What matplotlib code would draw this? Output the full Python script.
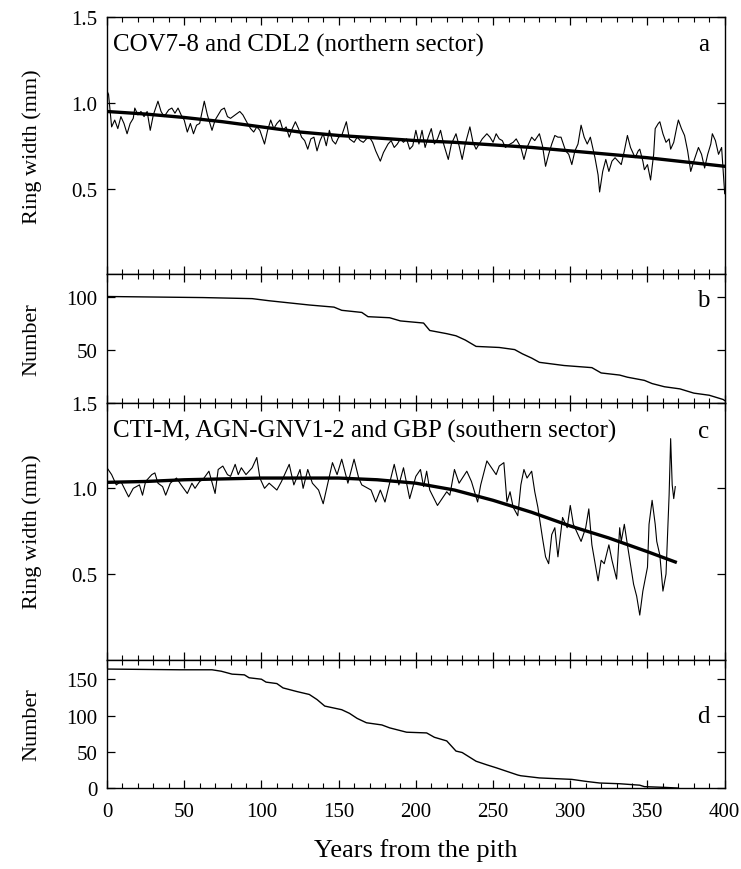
import matplotlib
matplotlib.use('Agg')
import matplotlib.pyplot as plt
from matplotlib.ticker import MultipleLocator

plt.rcParams['font.family'] = ['Liberation Serif', 'DejaVu Serif']

# panel a: northern sector ring widths (mm)
A_YEARS = [0, 1, 3, 5, 7, 9, 11, 13, 15, 17, 18, 20, 22, 24, 26, 28, 30, 33, 35, 37,
           40, 42, 44, 46, 48, 50, 52, 54, 56, 58, 60, 63, 65, 68, 70, 72, 74, 76, 78, 80,
           83, 86, 88, 91, 93, 95, 97, 99, 102, 104, 106, 108, 110, 112, 114, 116, 118, 120,
           122, 124, 126, 128, 130, 132, 134, 136, 138, 140, 142, 144, 146, 148, 150, 152,
           155, 157, 160, 162, 164, 166, 168, 170, 172, 174, 177, 179, 182, 184, 186, 188,
           190, 192, 194, 196, 198, 200, 202, 204, 206, 208, 210, 212, 214, 216, 218, 221,
           223, 226, 228, 230, 232, 235, 237, 239, 241, 243, 246, 248, 250, 252, 254, 256,
           258, 261, 263, 265, 268, 270, 272, 275, 277, 280, 282, 284, 286, 288, 290, 292,
           294, 297, 299, 301, 303, 305, 307, 309, 311, 313, 315, 316, 318, 319, 321, 323,
           325, 327, 329, 331, 333, 335, 337, 339, 342, 344, 345, 347, 348, 350, 352, 354,
           355, 357, 358, 360, 362, 364, 365, 367, 369, 370, 372, 374, 376, 378, 380, 383,
           385, 387, 389, 391, 392, 394, 396, 398, 399, 400]
A_WIDTH = [1.07, 1.05, 0.86, 0.90, 0.85, 0.92, 0.88, 0.82, 0.88, 0.91, 0.97, 0.93, 0.95, 0.92, 0.95, 0.84, 0.93, 1.01, 0.95, 0.92,
           0.96, 0.97, 0.94, 0.97, 0.93, 0.90, 0.83, 0.88, 0.82, 0.87, 0.88, 1.01, 0.93, 0.84, 0.90, 0.93, 0.96, 0.97, 0.92, 0.91,
           0.93, 0.95, 0.93, 0.88, 0.85, 0.83, 0.86, 0.84, 0.76, 0.84, 0.90, 0.85, 0.88, 0.90, 0.84, 0.86, 0.80, 0.85,
           0.89, 0.85, 0.80, 0.78, 0.73, 0.79, 0.80, 0.72, 0.78, 0.82, 0.75, 0.84, 0.78, 0.76, 0.80, 0.81,
           0.89, 0.79, 0.77, 0.80, 0.78, 0.77, 0.79, 0.80, 0.77, 0.72, 0.66, 0.71, 0.76, 0.78, 0.74, 0.76,
           0.79, 0.77, 0.79, 0.73, 0.75, 0.84, 0.76, 0.84, 0.74, 0.80, 0.85, 0.76, 0.79, 0.84, 0.76, 0.67,
           0.76, 0.82, 0.75, 0.67, 0.76, 0.86, 0.77, 0.73, 0.76, 0.79, 0.82, 0.80, 0.77, 0.82, 0.79, 0.78,
           0.74, 0.76, 0.77, 0.79, 0.74, 0.67, 0.74, 0.80, 0.78, 0.82, 0.75, 0.63, 0.70, 0.76, 0.81, 0.80,
           0.80, 0.72, 0.70, 0.64, 0.72, 0.76, 0.87, 0.80, 0.76, 0.80, 0.72, 0.68, 0.58, 0.48, 0.60, 0.67,
           0.60, 0.66, 0.68, 0.66, 0.64, 0.72, 0.81, 0.74, 0.68, 0.72, 0.73, 0.66, 0.61, 0.64, 0.55, 0.70,
           0.85, 0.88, 0.89, 0.82, 0.77, 0.79, 0.73, 0.77, 0.86, 0.90, 0.85, 0.81, 0.72, 0.60, 0.66, 0.74,
           0.70, 0.62, 0.70, 0.76, 0.82, 0.78, 0.70, 0.74, 0.60, 0.47]
A_TREND_YEARS = [0, 25, 50, 75, 100, 125, 150, 175, 200, 225, 250, 275, 300, 325, 350, 375, 400]
A_TREND = [0.95, 0.935, 0.915, 0.89, 0.86, 0.83, 0.81, 0.795, 0.78, 0.77, 0.755, 0.74, 0.72, 0.70, 0.68, 0.655, 0.63]

# panel b: sample depth, northern sector
B_YEARS = [0, 62, 94, 105, 118, 131, 147, 152, 165, 169, 183, 190, 205, 209, 220, 226, 232, 239,
           254, 264, 269, 275, 280, 296, 314, 320, 332, 337, 348, 353, 361, 371, 380, 390, 399, 400]
B_NUMBER = [100, 99, 98, 96, 94, 92, 90, 87, 85, 81, 80, 77, 75, 68, 65, 63, 59, 53,
            52, 50, 46, 42, 38, 35, 33, 28, 26, 24, 21, 18, 15, 13, 9, 7, 3, 2]

# panel c: southern sector ring widths (mm)
C_YEARS = [0, 3, 6, 9, 14, 17, 21, 23, 25, 29, 31, 33, 36, 38, 41, 45, 48, 52, 55, 57,
           60, 62, 66, 70, 72, 75, 78, 80, 83, 85, 87, 90, 94, 97, 99, 102, 105, 110, 113,
           118, 121, 125, 127, 130, 133, 137, 140, 143, 146, 149, 152, 156, 160, 163, 165,
           171, 174, 177, 180, 186, 189, 192, 196, 200, 203, 205, 207, 209, 214, 217, 220,
           222, 225, 228, 233, 236, 238, 240, 242, 246, 249, 252, 254, 257, 259, 261, 263,
           266, 268, 270, 272, 275, 277, 279, 282, 284, 286, 288, 290, 292, 295, 298, 300,
           302, 307, 310, 312, 314, 318, 320, 322, 325, 327, 330, 332, 333, 335, 337, 341,
           343, 345, 347, 350, 351, 353, 355, 356, 358, 360, 362, 364, 365, 366, 367, 368]
C_WIDTH = [1.12, 1.08, 1.02, 1.04, 0.95, 1.00, 1.02, 0.96, 1.04, 1.08, 1.09, 1.03, 1.01, 0.96, 1.03, 1.06, 1.02, 0.97, 1.03, 1.00,
           1.04, 1.05, 1.10, 0.97, 1.11, 1.13, 1.08, 1.07, 1.14, 1.08, 1.12, 1.08, 1.12, 1.18, 1.06, 1.00, 1.03, 0.99, 1.04,
           1.14, 1.02, 1.11, 1.00, 1.11, 1.03, 0.99, 0.91, 1.03, 1.15, 1.08, 1.17, 1.03, 1.17, 1.06, 1.02,
           0.99, 0.92, 0.99, 0.92, 1.14, 1.02, 1.12, 0.94, 1.07, 1.11, 1.01, 1.10, 0.99, 0.90, 0.94, 0.98,
           0.96, 1.11, 1.03, 1.10, 1.04, 0.98, 0.92, 1.02, 1.16, 1.12, 1.08, 1.13, 1.15, 0.92, 0.98, 0.89,
           0.84, 1.02, 1.11, 1.06, 1.10, 0.98, 0.89, 0.71, 0.60, 0.56, 0.73, 0.77, 0.60, 0.83, 0.77, 0.90,
           0.79, 0.69, 0.77, 0.88, 0.67, 0.46, 0.58, 0.56, 0.67, 0.58, 0.47, 0.77, 0.69, 0.79, 0.67, 0.44,
           0.37, 0.26, 0.40, 0.54, 0.79, 0.93, 0.79, 0.69, 0.61, 0.40, 0.50, 0.96, 1.29, 1.02, 0.94, 1.01]
C_TREND_YEARS = [0, 25, 50, 75, 100, 125, 150, 175, 200, 225, 250, 275, 300, 325, 350, 368]
C_TREND = [1.035, 1.04, 1.05, 1.055, 1.06, 1.06, 1.06, 1.05, 1.03, 0.99, 0.93, 0.86, 0.78, 0.71, 0.63, 0.57]

# panel d: sample depth, southern sector
D_YEARS = [0, 47, 68, 74, 81, 89, 92, 100, 103, 110, 114, 123, 131, 136, 141, 152, 157, 162, 168,
           178, 183, 194, 207, 212, 220, 226, 230, 239, 246, 252, 259, 266, 268, 280, 301, 311,
           319, 332, 345, 348, 361, 370]
D_NUMBER = [164, 163, 163, 161, 157, 156, 152, 150, 146, 144, 138, 133, 129, 122, 113, 108, 103, 96, 90,
            87, 83, 77, 76, 70, 65, 51, 49, 37, 32, 28, 23, 18, 17, 14, 12, 9,
            7, 6, 4, 2, 1, 0]

fig = plt.figure(figsize=(7.41, 8.70), dpi=100)
gs = fig.add_gridspec(4, 1, height_ratios=[2, 1, 2, 1], hspace=0,
                      left=0.1444, right=0.978, top=0.979, bottom=0.093)
axes = [fig.add_subplot(gs[i]) for i in range(4)]
ax_a, ax_b, ax_c, ax_d = axes

TICK_FS = 15
LABEL_FS = 16
TITLE_FS = 18

ax_a.plot(A_YEARS, A_WIDTH, color='black', lw=0.8)
ax_a.plot(A_TREND_YEARS, A_TREND, color='black', lw=2.4)
ax_a.set_ylim(0, 1.5)
ax_a.set_yticks([0.5, 1.0, 1.5])
ax_a.set_ylabel('Ring width (mm)', fontsize=LABEL_FS)
ax_a.text(0.01, 0.895, 'COV7-8 and CDL2 (northern sector)', transform=ax_a.transAxes,
          fontsize=TITLE_FS, va='center', ha='left')
ax_a.text(0.975, 0.895, 'a', transform=ax_a.transAxes, fontsize=TITLE_FS, va='center', ha='right')

ax_b.plot(B_YEARS, B_NUMBER, color='black', lw=1.0)
ax_b.set_ylim(0, 121)
ax_b.set_yticks([50, 100])
ax_b.set_ylabel('Number', fontsize=LABEL_FS)
ax_b.text(0.975, 0.8, 'b', transform=ax_b.transAxes, fontsize=TITLE_FS, va='center', ha='right')

ax_c.plot(C_YEARS, C_WIDTH, color='black', lw=0.8)
ax_c.plot(C_TREND_YEARS, C_TREND, color='black', lw=2.4)
ax_c.set_ylim(0, 1.5)
ax_c.set_yticks([0.5, 1.0, 1.5])
ax_c.set_ylabel('Ring width (mm)', fontsize=LABEL_FS)
ax_c.text(0.01, 0.89, 'CTI-M, AGN-GNV1-2 and GBP (southern sector)', transform=ax_c.transAxes,
          fontsize=TITLE_FS, va='center', ha='left')
ax_c.text(0.975, 0.89, 'c', transform=ax_c.transAxes, fontsize=TITLE_FS, va='center', ha='right')

ax_d.plot(D_YEARS, D_NUMBER, color='black', lw=1.0)
ax_d.set_ylim(0, 177)
ax_d.set_yticks([0, 50, 100, 150])
ax_d.set_ylabel('Number', fontsize=LABEL_FS)
ax_d.text(0.975, 0.56, 'd', transform=ax_d.transAxes, fontsize=TITLE_FS, va='center', ha='right')
ax_d.set_xlabel('Years from the pith', fontsize=19, labelpad=12)

for ax in axes:
    ax.set_xlim(0, 400)
    ax.xaxis.set_major_locator(MultipleLocator(50))
    ax.xaxis.set_minor_locator(MultipleLocator(10))
    ax.tick_params(axis='both', which='both', direction='in', top=True, right=True,
                   labelsize=TICK_FS)
    ax.tick_params(which='major', length=6, width=0.9)
    ax.tick_params(which='minor', length=3.5, width=0.8)
    ax.tick_params(axis='y', which='minor', left=False, right=False)
    ax.tick_params(axis='y', pad=7)
    ax.yaxis.set_label_coords(-0.106, 0.5)
    for s in ax.spines.values():
        s.set_linewidth(1.0)
    if ax is not ax_d:
        ax.tick_params(labelbottom=False)

ax_d.tick_params(axis='x', pad=10)

fig.savefig('out.png', dpi=100)
